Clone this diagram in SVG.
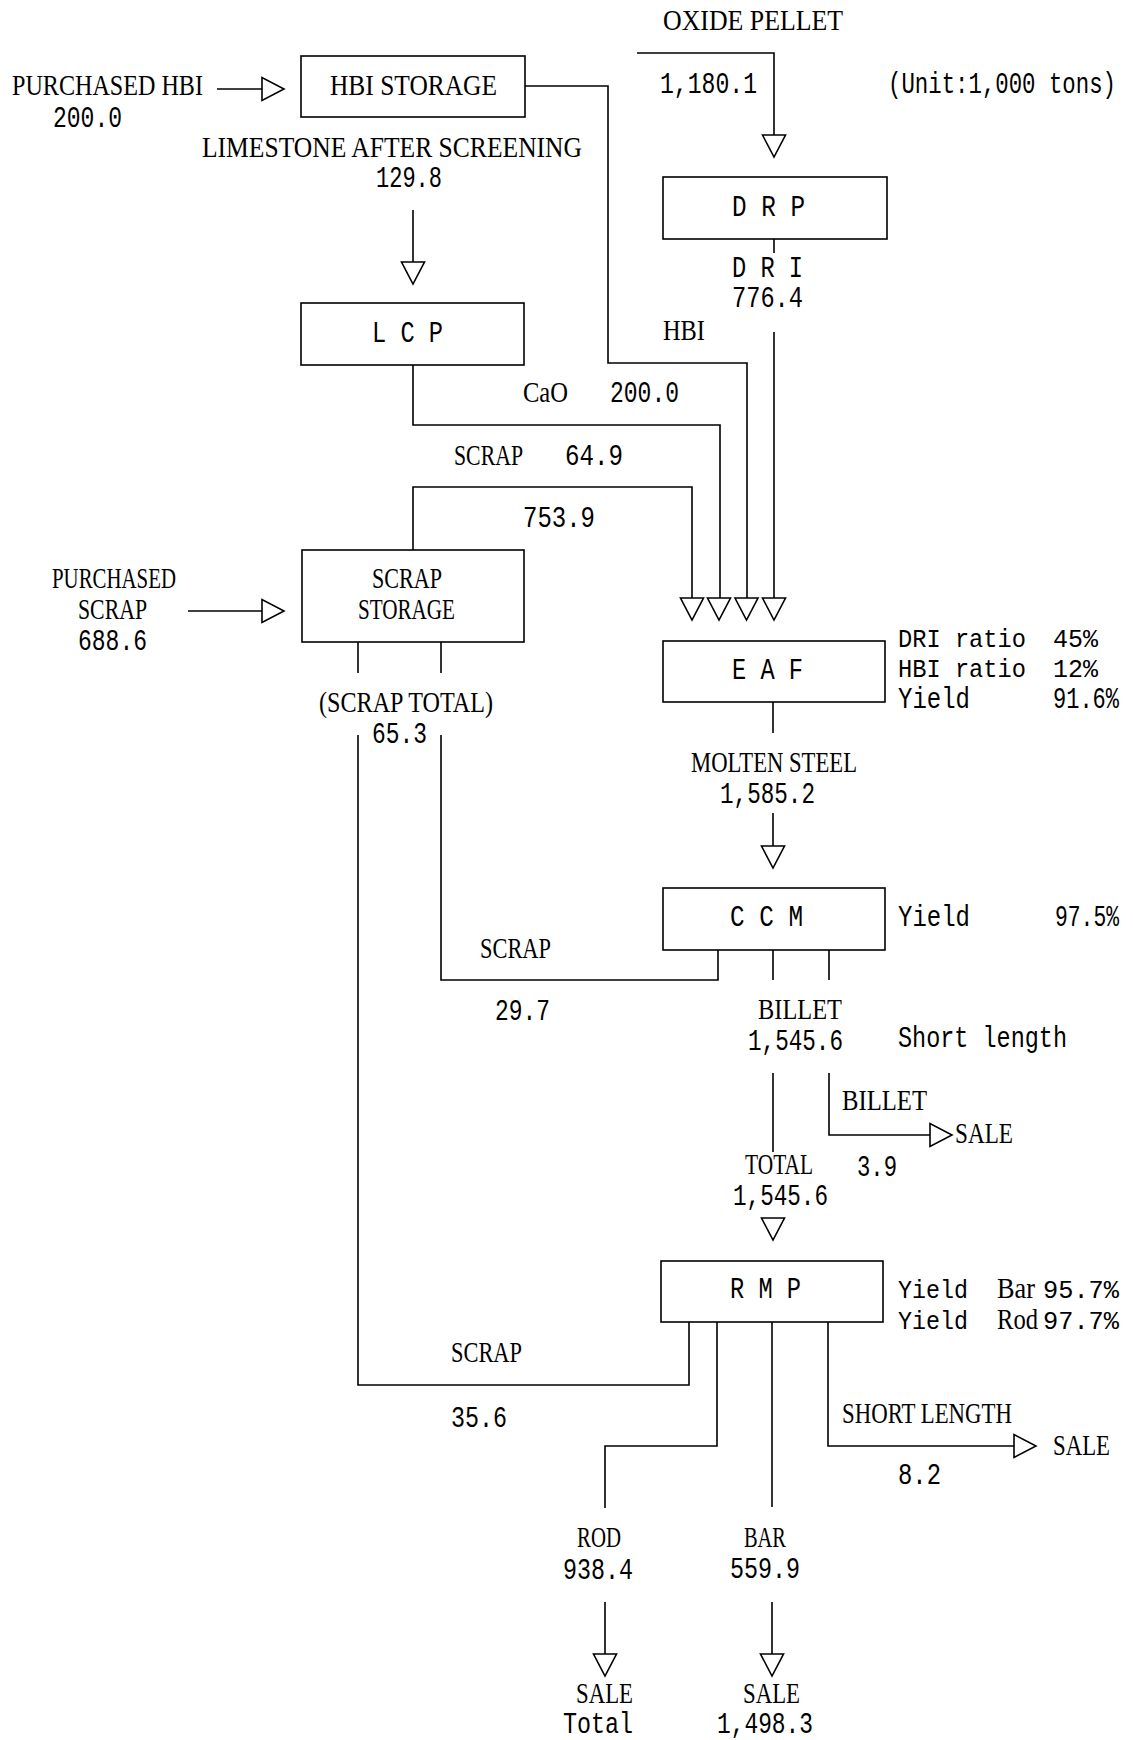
<svg xmlns="http://www.w3.org/2000/svg" width="1133" height="1740" viewBox="0 0 1133 1740">
<style>
.box{fill:none;stroke:#000;stroke-width:1.6}
.w{fill:none;stroke:#000;stroke-width:1.6}
.t{fill:#fff;stroke:#000;stroke-width:1.6;stroke-linejoin:miter}
.s{font-family:"Liberation Serif",serif;font-size:29px;fill:#000}
.m{font-family:"Liberation Mono",monospace;font-size:29px;fill:#000}
.r{font-family:"Liberation Mono",monospace;font-size:26px;fill:#000}
.n{font-family:"Liberation Mono",monospace;font-size:22px;fill:#000}
</style>
<defs>
<polygon id="td" points="-11.5,0 11.5,0 0,22"/>
<polygon id="tr" points="0,-11.5 0,11.5 22,0"/>
</defs>
<rect width="1133" height="1740" fill="#fff"/>

<g id="connectors">
<path class="w" d="M217,89 H262"/>
<use href="#tr" class="t" x="262" y="89"/>
<path class="w" d="M525,86 H608 V363 H747 V598"/>
<path class="w" d="M637,53 H774 V135"/>
<use href="#td" class="t" x="774" y="135"/>
<path class="w" d="M774,239 V253"/>
<path class="w" d="M774,332 V598"/>
<path class="w" d="M413,210 V262"/>
<use href="#td" class="t" x="413" y="262"/>
<path class="w" d="M413,365 V425 H720 V598"/>
<path class="w" d="M413,550 V487 H692 V598"/>
<use href="#td" class="t" x="692" y="598"/>
<use href="#td" class="t" x="719" y="598"/>
<use href="#td" class="t" x="746.5" y="598"/>
<use href="#td" class="t" x="774" y="598"/>
<path class="w" d="M188,611 H262"/>
<use href="#tr" class="t" x="262" y="611"/>
<path class="w" d="M358,642 V673 M441,642 V673"/>
<path class="w" d="M358,735 V1385 H689 V1322"/>
<path class="w" d="M441,735 V980 H718 V950"/>
<path class="w" d="M773,702 V733"/>
<path class="w" d="M773,813 V846"/>
<use href="#td" class="t" x="773" y="846"/>
<path class="w" d="M773,950 V980 M829,950 V980"/>
<path class="w" d="M773,1073 V1152"/>
<path class="w" d="M829,1073 V1135 H930"/>
<use href="#tr" class="t" x="930" y="1135"/>
<use href="#td" class="t" x="773" y="1218"/>
<path class="w" d="M717,1322 V1446 H605 V1508"/>
<path class="w" d="M772,1322 V1507"/>
<path class="w" d="M828,1322 V1446 H1014"/>
<use href="#tr" class="t" x="1014" y="1446"/>
<path class="w" d="M605,1602 V1654 M772,1602 V1654"/>
<use href="#td" class="t" x="605" y="1654"/>
<use href="#td" class="t" x="772" y="1654"/>
</g>

<g id="node-hbi-storage">
<rect class="box" x="301" y="56" width="224" height="61"/>
<text class="s" x="330" y="95" textLength="167" lengthAdjust="spacingAndGlyphs">HBI  STORAGE</text>
</g>
<g id="node-drp">
<rect class="box" x="663" y="177" width="224" height="62"/>
<text class="m" x="732" y="216" textLength="73" lengthAdjust="spacingAndGlyphs">D R P</text>
</g>
<g id="node-lcp">
<rect class="box" x="301" y="303" width="223" height="62"/>
<text class="m" x="372" y="342" textLength="71" lengthAdjust="spacingAndGlyphs">L C P</text>
</g>
<g id="node-scrap-storage">
<rect class="box" x="302" y="550" width="222" height="92"/>
<text class="s" x="372" y="588" textLength="70" lengthAdjust="spacingAndGlyphs">SCRAP</text>
<text class="s" x="358" y="619" textLength="97" lengthAdjust="spacingAndGlyphs">STORAGE</text>
</g>
<g id="node-eaf">
<rect class="box" x="663" y="641" width="222" height="61"/>
<text class="m" x="732" y="679" textLength="71" lengthAdjust="spacingAndGlyphs">E A F</text>
</g>
<g id="node-ccm">
<rect class="box" x="663" y="888" width="222" height="62"/>
<text class="m" x="730" y="926" textLength="73" lengthAdjust="spacingAndGlyphs">C C M</text>
</g>
<g id="node-rmp">
<rect class="box" x="661" y="1261" width="222" height="61"/>
<text class="m" x="730" y="1298" textLength="71" lengthAdjust="spacingAndGlyphs">R M P</text>
</g>

<g id="labels">
<text class="s" x="663" y="30" textLength="180" lengthAdjust="spacingAndGlyphs">OXIDE  PELLET</text>
<text class="m" x="660" y="93" textLength="97" lengthAdjust="spacingAndGlyphs">1,180.1</text>
<text class="n" transform="translate(888 93) scale(1 1.3)" x="0" y="0" textLength="228" lengthAdjust="spacingAndGlyphs">(Unit:1,000 tons)</text>
<text class="s" x="12" y="95" textLength="191" lengthAdjust="spacingAndGlyphs">PURCHASED  HBI</text>
<text class="m" x="53" y="127" textLength="69" lengthAdjust="spacingAndGlyphs">200.0</text>
<text class="s" x="202" y="157" textLength="380" lengthAdjust="spacingAndGlyphs">LIMESTONE  AFTER  SCREENING</text>
<text class="m" x="376" y="187" textLength="66" lengthAdjust="spacingAndGlyphs">129.8</text>
<text class="m" x="732" y="277" textLength="71" lengthAdjust="spacingAndGlyphs">D R I</text>
<text class="m" x="732" y="307" textLength="71" lengthAdjust="spacingAndGlyphs">776.4</text>
<text class="s" x="663" y="340" textLength="42" lengthAdjust="spacingAndGlyphs">HBI</text>
<text class="s" x="523" y="402" textLength="45" lengthAdjust="spacingAndGlyphs">CaO</text>
<text class="m" x="610" y="402" textLength="69" lengthAdjust="spacingAndGlyphs">200.0</text>
<text class="s" x="454" y="465" textLength="69" lengthAdjust="spacingAndGlyphs">SCRAP</text>
<text class="m" x="565" y="465" textLength="58" lengthAdjust="spacingAndGlyphs">64.9</text>
<text class="m" x="523" y="527" textLength="72" lengthAdjust="spacingAndGlyphs">753.9</text>
<text class="s" x="52" y="588" textLength="124" lengthAdjust="spacingAndGlyphs">PURCHASED</text>
<text class="s" x="78" y="619" textLength="69" lengthAdjust="spacingAndGlyphs">SCRAP</text>
<text class="m" x="78" y="650" textLength="69" lengthAdjust="spacingAndGlyphs">688.6</text>
<text class="s" x="319" y="712" textLength="174" lengthAdjust="spacingAndGlyphs">(SCRAP TOTAL)</text>
<text class="m" x="372" y="743" textLength="55" lengthAdjust="spacingAndGlyphs">65.3</text>
<text class="r" x="898" y="647" textLength="128" lengthAdjust="spacingAndGlyphs">DRI ratio</text>
<text class="r" x="1053" y="647" textLength="45" lengthAdjust="spacingAndGlyphs">45%</text>
<text class="r" x="898" y="677" textLength="128" lengthAdjust="spacingAndGlyphs">HBI ratio</text>
<text class="r" x="1053" y="677" textLength="45" lengthAdjust="spacingAndGlyphs">12%</text>
<text class="m" x="898" y="708" textLength="72" lengthAdjust="spacingAndGlyphs">Yield</text>
<text class="n" transform="translate(1053 708) scale(1 1.3)" x="0" y="0" textLength="66" lengthAdjust="spacingAndGlyphs">91.6%</text>
<text class="s" x="691" y="772" textLength="166" lengthAdjust="spacingAndGlyphs">MOLTEN STEEL</text>
<text class="m" x="720" y="803" textLength="95" lengthAdjust="spacingAndGlyphs">1,585.2</text>
<text class="m" x="898" y="926" textLength="72" lengthAdjust="spacingAndGlyphs">Yield</text>
<text class="n" transform="translate(1055 926) scale(1 1.3)" x="0" y="0" textLength="64" lengthAdjust="spacingAndGlyphs">97.5%</text>
<text class="s" x="480" y="958" textLength="71" lengthAdjust="spacingAndGlyphs">SCRAP</text>
<text class="m" x="495" y="1020" textLength="55" lengthAdjust="spacingAndGlyphs">29.7</text>
<text class="s" x="758" y="1019" textLength="84" lengthAdjust="spacingAndGlyphs">BILLET</text>
<text class="m" x="748" y="1050" textLength="95" lengthAdjust="spacingAndGlyphs">1,545.6</text>
<text class="m" x="898" y="1047" textLength="169" lengthAdjust="spacingAndGlyphs">Short length</text>
<text class="s" x="842" y="1110" textLength="85" lengthAdjust="spacingAndGlyphs">BILLET</text>
<text class="s" x="955" y="1143" textLength="58" lengthAdjust="spacingAndGlyphs">SALE</text>
<text class="s" x="745" y="1174" textLength="68" lengthAdjust="spacingAndGlyphs">TOTAL</text>
<text class="m" x="857" y="1176" textLength="40" lengthAdjust="spacingAndGlyphs">3.9</text>
<text class="m" x="733" y="1205" textLength="95" lengthAdjust="spacingAndGlyphs">1,545.6</text>
<text class="r" x="898" y="1298" textLength="70" lengthAdjust="spacingAndGlyphs">Yield</text>
<text class="s" x="997" y="1298" textLength="38" lengthAdjust="spacingAndGlyphs">Bar</text>
<text class="n" transform="translate(1043 1298) scale(1 1.2)" x="0" y="0" textLength="76" lengthAdjust="spacingAndGlyphs">95.7%</text>
<text class="r" x="898" y="1329" textLength="70" lengthAdjust="spacingAndGlyphs">Yield</text>
<text class="s" x="997" y="1329" textLength="41" lengthAdjust="spacingAndGlyphs">Rod</text>
<text class="n" transform="translate(1043 1329) scale(1 1.2)" x="0" y="0" textLength="76" lengthAdjust="spacingAndGlyphs">97.7%</text>
<text class="s" x="451" y="1362" textLength="71" lengthAdjust="spacingAndGlyphs">SCRAP</text>
<text class="m" x="451" y="1427" textLength="56" lengthAdjust="spacingAndGlyphs">35.6</text>
<text class="s" x="842" y="1423" textLength="170" lengthAdjust="spacingAndGlyphs">SHORT LENGTH</text>
<text class="s" x="1053" y="1455" textLength="57" lengthAdjust="spacingAndGlyphs">SALE</text>
<text class="m" x="898" y="1484" textLength="43" lengthAdjust="spacingAndGlyphs">8.2</text>
<text class="s" x="577" y="1547" textLength="44" lengthAdjust="spacingAndGlyphs">ROD</text>
<text class="m" x="563" y="1579" textLength="70" lengthAdjust="spacingAndGlyphs">938.4</text>
<text class="s" x="744" y="1547" textLength="42" lengthAdjust="spacingAndGlyphs">BAR</text>
<text class="m" x="730" y="1578" textLength="70" lengthAdjust="spacingAndGlyphs">559.9</text>
<text class="s" x="576" y="1703" textLength="57" lengthAdjust="spacingAndGlyphs">SALE</text>
<text class="m" x="563" y="1733" textLength="70" lengthAdjust="spacingAndGlyphs">Total</text>
<text class="s" x="743" y="1703" textLength="57" lengthAdjust="spacingAndGlyphs">SALE</text>
<text class="m" x="717" y="1733" textLength="96" lengthAdjust="spacingAndGlyphs">1,498.3</text>
</g>
</svg>
